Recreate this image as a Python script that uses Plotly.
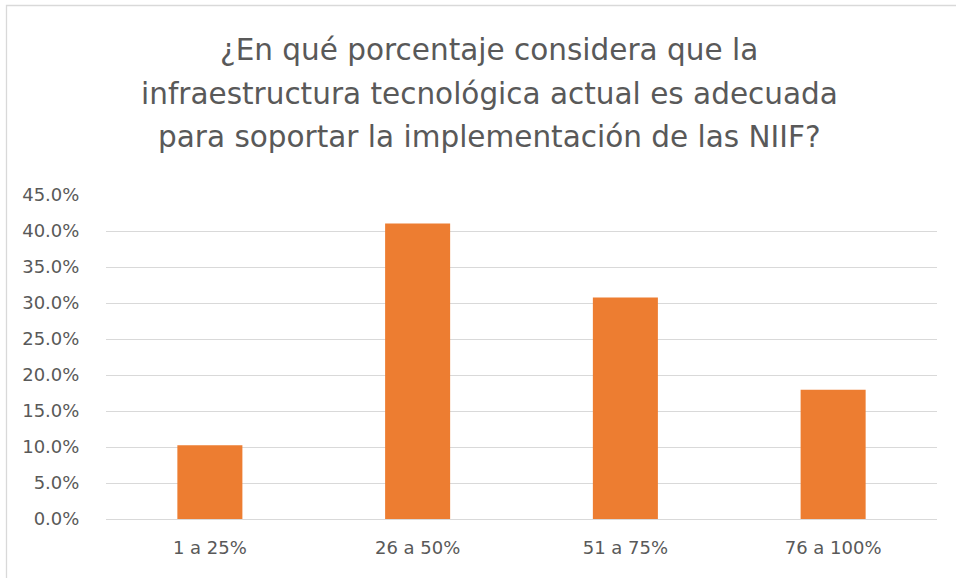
import plotly.graph_objects as go

categories = ["1 a 25%", "26 a 50%", "51 a 75%", "76 a 100%"]
values = [0.1026, 0.4103, 0.3077, 0.1795]
title_lines = [
    "¿En qué porcentaje considera que la",
    "infraestructura tecnológica actual es adecuada",
    "para soportar la implementación de las NIIF?",
]
tick_vals = [i * 0.05 for i in range(10)]
tick_text = [f"{v*100:.1f}%" for v in tick_vals]

FONT = "DejaVu Sans, sans-serif"
TXT = "#595959"
W, H = 956, 578
L, R, T, B = 106, 19, 195, 59
pw, ph = W - L - R, H - T - B

def px_x(x):
    return (x - L) / pw

def px_y(y):
    return (H - B - y) / ph

fig = go.Figure(go.Bar(
    x=categories, y=values, marker_color="#ED7D31", width=0.313,
    marker_line_width=0,
))

fig.update_layout(
    width=W, height=H,
    margin=dict(l=L, r=R, t=T, b=B),
    paper_bgcolor="white", plot_bgcolor="white",
    showlegend=False,
    font=dict(family=FONT, color=TXT),
)
fig.update_yaxes(
    range=[0, 0.45], tickvals=tick_vals, ticktext=tick_text,
    showgrid=True, gridcolor="#D9D9D9", gridwidth=1.3,
    zeroline=True, zerolinecolor="#D9D9D9", zerolinewidth=1.3,
    tickfont=dict(size=18, color=TXT, family=FONT),
    ticks="outside", ticklen=22, tickcolor="rgba(0,0,0,0)",
    showline=False,
)
fig.update_xaxes(
    tickfont=dict(size=18, color=TXT, family=FONT),
    ticks="outside", ticklen=12, tickcolor="rgba(0,0,0,0)",
    showline=False,
)

centers = [50, 93.5, 137]
for line, cy in zip(title_lines, centers):
    fig.add_annotation(
        text=line, xref="paper", yref="paper",
        x=px_x(489), y=px_y(cy), xanchor="center", yanchor="middle",
        showarrow=False, font=dict(size=29.5, color=TXT, family=FONT),
    )

# chart border (left and top visible)
fig.add_shape(
    type="rect", xref="paper", yref="paper",
    x0=px_x(6.5), x1=px_x(990), y0=px_y(5.5), y1=px_y(600),
    line=dict(color="#D9D9D9", width=1.3), fillcolor="rgba(0,0,0,0)", layer="below",
)

fig.write_html(
    "out.html",
    config={"displayModeBar": False},
    post_script="document.body.style.margin='0';document.body.style.overflow='hidden';",
)
